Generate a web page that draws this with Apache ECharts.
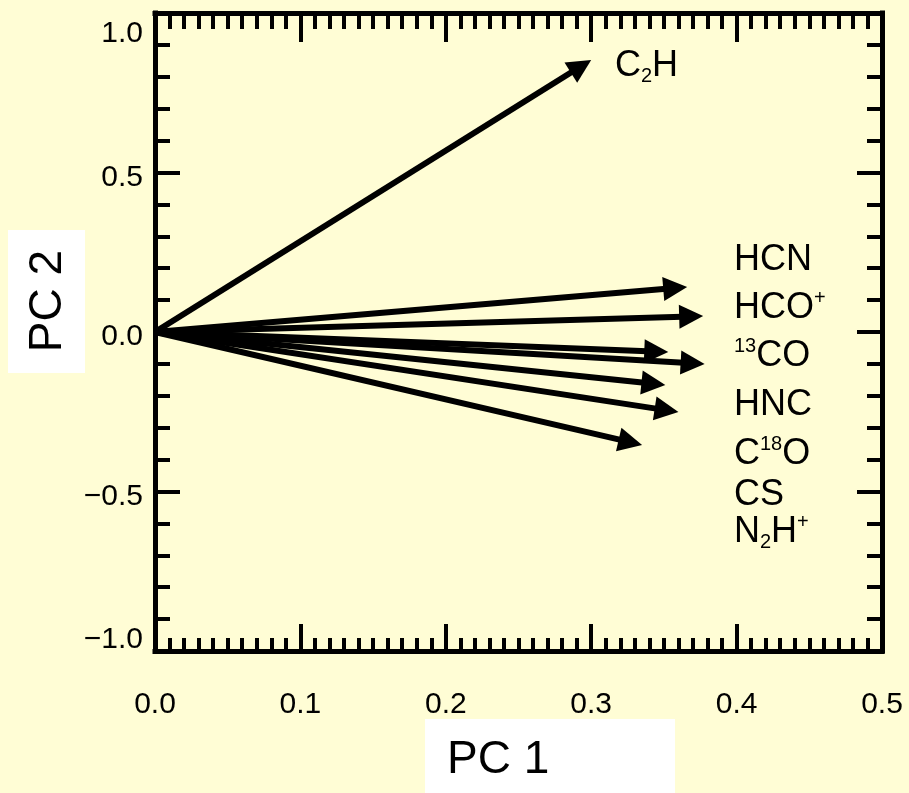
<!DOCTYPE html>
<html>
<head>
<meta charset="utf-8">
<script src="https://cdn.jsdelivr.net/npm/echarts@6/dist/echarts.min.js"></script>
<style>
html,body{margin:0;padding:0;background:#FFFDD5;}
#chart{width:909px;height:793px;}
</style>
</head>
<body>
<div id="chart"></div>
<script>
// ---- data ----
const molecules = ['C2H', 'HCN', 'HCO+', '13CO', 'HNC', 'C18O', 'CS', 'N2H+'];
const pc1 = [0.300, 0.366, 0.377, 0.353, 0.378, 0.351, 0.360, 0.335];
const pc2 = [0.853, 0.141, 0.050, -0.063, -0.100, -0.166, -0.251, -0.354];
const moleculeLabels = ['C{sub|2}H', 'HCN', 'HCO{sup|+}', '{sup|13}CO', 'HNC', 'C{sup|18}O', 'CS', 'N{sub|2}H{sup|+}'];
const xTickLabels = ['0.0', '0.1', '0.2', '0.3', '0.4', '0.5'];
const yTickLabels = ['\u22121.0', '\u22120.5', '0.0', '0.5', '1.0'];
const xTitle = 'PC 1';
const yTitle = 'PC 2';

const BG = '#FFFDD5';
const tickFont = 'Liberation Sans';
const labelFont = 'Liberation Sans';

const chart = echarts.init(document.getElementById('chart'), null, {renderer: 'canvas'});

function xLab(v) {
  const i = Math.round(v / 0.1);
  return xTickLabels[i] !== undefined ? xTickLabels[i] : '';
}
function yLab(v) {
  const i = Math.round((v + 1) / 0.5);
  const t = yTickLabels[i];
  if (t === undefined) return '';
  if (i === 4) return '{top|' + t + '}';
  if (i === 0) return '{bot|' + t + '}';
  return '{mid|' + t + '}';
}

const axisLineStyle = {color: '#000', width: 5, cap: 'square'};
const tickStyle = {color: '#000', width: 4};

// label block positions (text layout only)
const labelPos = [[615, 66], [734, 260], [734, 308], [734, 356], [734, 405], [734, 454], [734, 495], [734, 532]];

const graphics = [
  {type: 'rect', shape: {x: 425, y: 719, width: 250, height: 80}, style: {fill: '#fff'}, z: 10},
  {type: 'text', x: 447, y: 760, z: 11,
   style: {text: xTitle, fontFamily: labelFont, fontSize: 46, fill: '#000', align: 'left', verticalAlign: 'middle'}},
  {type: 'rect', shape: {x: 8, y: 230, width: 77, height: 143}, style: {fill: '#fff'}, z: 10},
  {type: 'text', x: 48, y: 301, rotation: Math.PI / 2, z: 11,
   style: {text: yTitle, fontFamily: labelFont, fontSize: 46, fill: '#000', align: 'center', verticalAlign: 'middle'}}
];
moleculeLabels.forEach(function (t, i) {
  graphics.push({
    type: 'text', x: labelPos[i][0], y: labelPos[i][1], z: 11,
    style: {
      text: t, align: 'left', verticalAlign: 'middle', fill: '#000',
      fontFamily: labelFont, fontSize: 36, lineHeight: 40,
      rich: {
        sup: {fontFamily: labelFont, fontSize: 20, lineHeight: 30, verticalAlign: 'top', fill: '#000'},
        sub: {fontFamily: labelFont, fontSize: 20, lineHeight: 12, verticalAlign: 'bottom', fill: '#000'}
      }
    }
  });
});

const option = {
  backgroundColor: BG,
  animation: false,
  grid: {left: 155, right: 27, top: 13, bottom: 142, containLabel: false},
  xAxis: [
    {
      type: 'value', min: 0, max: 0.5, interval: 0.1, position: 'bottom',
      axisLine: {show: true, onZero: false, lineStyle: axisLineStyle},
      axisTick: {show: true, inside: true, length: 27, lineStyle: tickStyle},
      minorTick: {show: true, splitNumber: 10, length: 13, lineStyle: tickStyle},
      splitLine: {show: false},
      axisLabel: {show: true, margin: 39, fontFamily: tickFont, fontSize: 30, color: '#000', formatter: xLab}
    },
    {
      type: 'value', min: 0, max: 0.5, interval: 0.1, position: 'top',
      axisLine: {show: true, onZero: false, lineStyle: axisLineStyle},
      axisTick: {show: true, inside: true, length: 29, lineStyle: tickStyle},
      minorTick: {show: true, splitNumber: 10, length: 16, lineStyle: tickStyle},
      splitLine: {show: false},
      axisLabel: {show: false}
    }
  ],
  yAxis: [
    {
      type: 'value', min: -1, max: 1, interval: 0.5, position: 'left',
      axisLine: {show: true, onZero: false, lineStyle: axisLineStyle},
      axisTick: {show: true, inside: true, length: 25, lineStyle: tickStyle},
      minorTick: {show: true, splitNumber: 5, length: 15, lineStyle: tickStyle},
      splitLine: {show: false},
      axisLabel: {
        show: true, margin: 12, color: '#000', formatter: yLab,
        rich: {
          top: {fontFamily: tickFont, fontSize: 30, color: '#000', padding: [42, 0, 0, 0]},
          mid: {fontFamily: tickFont, fontSize: 30, color: '#000', padding: [10, 0, 0, 0]},
          bot: {fontFamily: tickFont, fontSize: 30, color: '#000', padding: [0, 0, 22, 0]}
        }
      }
    },
    {
      type: 'value', min: -1, max: 1, interval: 0.5, position: 'right',
      axisLine: {show: true, onZero: false, lineStyle: axisLineStyle},
      axisTick: {show: true, inside: true, length: 25, lineStyle: tickStyle},
      minorTick: {show: true, splitNumber: 5, length: 15, lineStyle: tickStyle},
      splitLine: {show: false},
      axisLabel: {show: false}
    }
  ],
  series: [
    {
      type: 'custom',
      name: 'loadings',
      xAxisIndex: 0, yAxisIndex: 0,
      clip: false,
      encode: {x: 0, y: 1},
      data: pc1.map(function (v, i) { return [v, pc2[i], molecules[i]]; }),
      renderItem: function (params, api) {
        const o = api.coord([0, 0]);
        const p = api.coord([api.value(0), api.value(1)]);
        const dx = p[0] - o[0], dy = p[1] - o[1];
        const len = Math.sqrt(dx * dx + dy * dy);
        const ux = dx / len, uy = dy / len;
        const hl = 24, hw = 12;
        const bx = p[0] - ux * hl, by = p[1] - uy * hl;
        const nx = -uy, ny = ux;
        return {
          type: 'group',
          children: [
            {type: 'line', shape: {x1: o[0], y1: o[1], x2: bx + ux * 3, y2: by + uy * 3},
             style: {stroke: '#000', lineWidth: 6}},
            {type: 'polygon', shape: {points: [[p[0], p[1]], [bx + nx * hw, by + ny * hw], [bx - nx * hw, by - ny * hw]]},
             style: {fill: '#000'}}
          ]
        };
      }
    }
  ],
  graphic: graphics
};

chart.setOption(option);
</script>
</body>
</html>
